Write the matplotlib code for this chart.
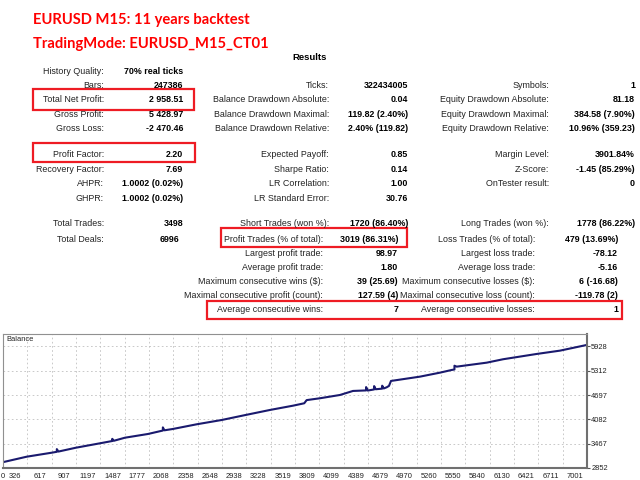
import matplotlib
matplotlib.use('Agg')
import matplotlib.pyplot as plt
from matplotlib.patches import Rectangle

W, H = 640, 480

# header
title1 = 'EURUSD M15: 11 years backtest'
title2 = 'TradingMode: EURUSD_M15_CT01'

# left column of the report
left_labels = ['History Quality:', 'Bars:', 'Total Net Profit:', 'Gross Profit:', 'Gross Loss:',
               'Profit Factor:', 'Recovery Factor:', 'AHPR:', 'GHPR:', 'Total Trades:', 'Total Deals:']
left_values = ['70% real ticks', '247386', '2 958.51', '5 428.97', '-2 470.46',
               '2.20', '7.69', '1.0002 (0.02%)', '1.0002 (0.02%)', '3498', '6996']
left_rows = [71, 85.7, 100, 114.3, 128.6, 154.3, 169, 183.3, 198.3, 223.3, 239]

# middle and right columns (upper part)
mid_labels = ['Ticks:', 'Balance Drawdown Absolute:', 'Balance Drawdown Maximal:', 'Balance Drawdown Relative:',
              'Expected Payoff:', 'Sharpe Ratio:', 'LR Correlation:', 'LR Standard Error:', 'Short Trades (won %):']
mid_values = ['322434005', '0.04', '119.82 (2.40%)', '2.40% (119.82)',
              '0.85', '0.14', '1.00', '30.76', '1720 (86.40%)']
right_labels = ['Symbols:', 'Equity Drawdown Absolute:', 'Equity Drawdown Maximal:', 'Equity Drawdown Relative:',
                'Margin Level:', 'Z-Score:', 'OnTester result:', '', 'Long Trades (won %):']
right_values = ['1', '81.18', '384.58 (7.90%)', '10.96% (359.23)',
                '3901.84%', '-1.45 (85.29%)', '0', '', '1778 (86.22%)']
upper_rows = [85.7, 100, 114.3, 128.6, 154.3, 169, 183.3, 198.3, 223.3]

# lower part
low_mid_labels = ['Profit Trades (% of total):', 'Largest profit trade:', 'Average profit trade:',
                  'Maximum consecutive wins ($):', 'Maximal consecutive profit (count):', 'Average consecutive wins:']
low_mid_values = ['3019 (86.31%)', '98.97', '1.80', '39 (25.69)', '127.59 (4)', '7']
low_right_labels = ['Loss Trades (% of total):', 'Largest loss trade:', 'Average loss trade:',
                    'Maximum consecutive losses ($):', 'Maximal consecutive loss (count):', 'Average consecutive losses:']
low_right_values = ['479 (13.69%)', '-78.12', '-5.16', '6 (-16.68)', '-119.78 (2)', '1']
lower_rows = [239, 253, 267, 281, 295, 310]

# balance curve
trade = [0, 295, 606, 670, 670, 690, 909, 1207, 1360, 1360, 1380, 1519, 1805, 1990, 1990, 2010,
         2113, 2411, 2723, 3021, 3324, 3610, 3750, 3780, 3946, 4195, 4357, 4520, 4520, 4540,
         4620, 4620, 4640, 4720, 4720, 4740, 4777, 4805, 4830, 5191, 5440, 5586, 5620, 5620,
         5648, 6022, 6225, 6644, 6934, 7250]
balance = [3000, 3138, 3239, 3262, 3330, 3268, 3366, 3477, 3535, 3590, 3541, 3619, 3713, 3800, 3880, 3806,
           3839, 3958, 4067, 4194, 4321, 4429, 4490, 4570, 4617, 4700, 4802, 4815, 4900, 4812,
           4840, 4925, 4845, 4860, 4935, 4865, 4895, 4930, 5055, 5164, 5265, 5333, 5345, 5440,
           5417, 5518, 5604, 5738, 5822, 5958.51]

y_ticks = [2852, 3467, 4082, 4697, 5312, 5928]
x_labels = ['0', '326', '617', '907', '1197', '1487', '1777', '2068', '2358', '2648', '2938', '3228',
            '3519', '3809', '4099', '4389', '4679', '4970', '5260', '5550', '5840', '6130', '6421',
            '6711', '7001']
x_max = 7270

fig = plt.figure(figsize=(6.4, 4.8), dpi=100)
fig.patch.set_facecolor('white')


def put(x, y, s, **kw):
    fig.text(x / W, 1 - y / H, s, va='center', **kw)


def box(x0, y0, x1, y1):
    fig.patches.append(Rectangle((x0 / W, 1 - y1 / H), (x1 - x0) / W, (y1 - y0) / H,
                                 transform=fig.transFigure, fill=False, edgecolor='#ee1c24', lw=1.6))


tfont = dict(family='Lato', weight='bold', color='#ff0000', fontsize=10.6)
put(33, 20, title1, **tfont)
put(33, 44, title2, **tfont)
put(310, 57, 'Results', ha='center', fontsize=6.8, weight='bold', family='Liberation Sans')

lab = dict(family='Liberation Sans', fontsize=6.4, color='#222222', ha='right')
val = dict(family='Liberation Sans', fontsize=6.4, color='black', ha='right', weight='bold')

for s, v, y in zip(left_labels, left_values, left_rows):
    put(104, y, s, **lab)
    put(183 if s != 'Total Deals:' else 179, y, v, **val)
for s, v, y in zip(mid_labels, mid_values, upper_rows):
    put(329, y, s, **lab)
    put(408, y, v, **val)
for s, v, y in zip(right_labels, right_values, upper_rows):
    put(549, y, s, **lab)
    put(635, y, v, **val)
for s, v, y in zip(low_mid_labels, low_mid_values, lower_rows):
    put(323, y, s, **lab)
    put(398, y, v, **val)
for s, v, y in zip(low_right_labels, low_right_values, lower_rows):
    put(535, y, s, **lab)
    put(618, y, v, **val)

box(33, 89, 194, 110)
box(33, 143, 195, 162)
box(221, 228, 407, 247)
box(207, 301, 622, 319)

# balance chart
ax = fig.add_axes([3 / W, 1 - 468 / H, 584 / W, 134 / H])
ax.plot(trade, balance, color='#1a1a6e', lw=1.5)
ax.set_xlim(0, x_max)
ax.set_ylim(2852, 6243)
step = x_max / 24
ax.set_xticks([step * k for k in range(1, 24)])
ax.set_xticklabels([])
ax.tick_params(axis='x', length=0)
for k, s in enumerate(x_labels):
    xpos = 0 if k == 0 else step * (k - 0.5)
    ax.text(xpos, -0.04, s, transform=ax.get_xaxis_transform(), ha='center', va='top',
            fontsize=5.4, family='Liberation Sans', color='#222222')
ax.yaxis.tick_right()
ax.set_yticks(y_ticks)
ax.set_yticklabels([str(t) for t in y_ticks], fontsize=5.4, family='Liberation Sans', color='#222222')
ax.tick_params(axis='y', length=2, pad=1, color='#555555')
ax.grid(True, ls=(0, (2, 3)), color='#c0c0c0', lw=0.6)
for side in ['left', 'top']:
    ax.spines[side].set_color('#909090')
    ax.spines[side].set_linewidth(0.8)
for side in ['right', 'bottom']:
    ax.spines[side].set_color('#707070')
    ax.spines[side].set_linewidth(1.5)
ax.text(0.005, 0.985, 'Balance', transform=ax.transAxes, ha='left', va='top',
        fontsize=5.4, family='Liberation Sans', color='#222222')

fig.savefig('out.png', dpi=100)
